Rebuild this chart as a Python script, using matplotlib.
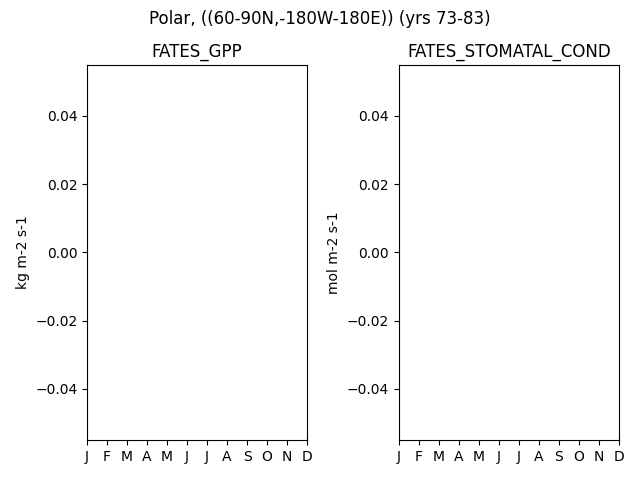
import numpy as np
import matplotlib.pyplot as plt

# month labels and (empty) monthly climatology values
months = ['J', 'F', 'M', 'A', 'M', 'J', 'J', 'A', 'S', 'O', 'N', 'D']
variables = ['FATES_GPP', 'FATES_STOMATAL_COND']
units = ['kg m-2 s-1', 'mol m-2 s-1']
gpp = [np.nan] * 12
stomatal_cond = [np.nan] * 12
series = [gpp, stomatal_cond]

fig, axes = plt.subplots(1, 2, figsize=(6.4, 4.8), dpi=100)
x = np.arange(12)
for ax, var, unit, vals in zip(axes, variables, units, series):
    ax.plot(x, vals)
    ax.set_title(var)
    ax.set_ylabel(unit)
    ax.set_xticks(x)
    ax.set_xticklabels(months)
    ax.set_xlim(0, 11)
    ax.set_ylim(-0.055, 0.055)

fig.suptitle('Polar, ((60-90N,-180W-180E)) (yrs 73-83)')
fig.subplots_adjust(left=0.136, right=0.967, top=0.865, bottom=0.083, wspace=0.418)
fig.savefig('out.png')
